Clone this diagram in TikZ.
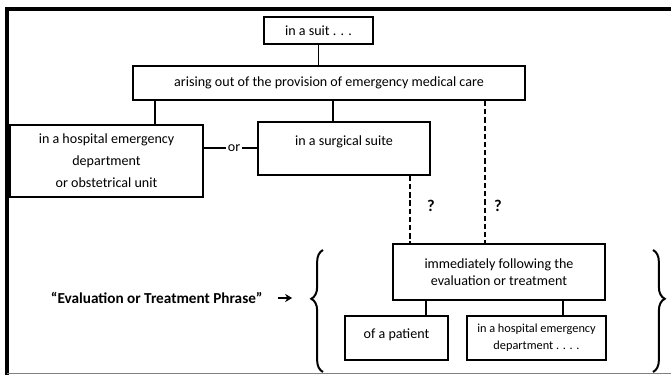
\documentclass[tikz,border=0pt]{standalone}
\usepackage{fontspec}
\setmainfont{Carlito}
\usepackage{tikz}
\usetikzlibrary{arrows.meta,decorations.pathreplacing,positioning}

\begin{document}
\begin{tikzpicture}[x=0.03cm, y=-0.03cm,
  every node/.style={font=\fontsize{12}{14.5}\selectfont},
  pbox/.style={draw, rectangle, line width=1.7pt, align=center, inner sep=0pt},
  tnode/.style={draw=none, rectangle, inner sep=1pt},
  link/.style={line width=1.7pt},
  maybe/.style={line width=1.7pt, dash pattern=on 4.5pt off 2.5pt},
  curly/.style={line width=1.7pt, decorate, decoration={brace, amplitude=10pt}}]

\useasboundingbox (0,0) rectangle (671,375);

% frame
\draw [line width=2.6pt] (7,375) -- (7,9) -- (671,9);
\draw [gray, line width=0.8pt] (7,373) -- (671,373);

% upper part
\node (suit) [pbox, minimum width=3.27cm, minimum height=0.81cm] at (318.5,30.5) {in a suit . . .};
\node (arise) [pbox, minimum width=11.76cm, minimum height=1.02cm] at (329,83)
  {arising out of the provision of emergency medical care};
\node (hosp) [pbox, minimum width=5.79cm, minimum height=2.16cm] at (106.5,161)
  {in a hospital emergency\\[4.3pt] department\\[4.3pt] or obstetrical unit};
\node (surg) [pbox, minimum width=5.16cm, text height=20pt, text depth=25pt] at (344,148.5)
  {in a surgical suite};
\node (or) [tnode] at (234,148) {or};

% evaluation or treatment phrase
\node (immed) [pbox, minimum width=6.36cm, minimum height=1.68cm] at (499,272)
  {immediately following the\\ evaluation or treatment};
\node (pat) [pbox, minimum width=3.09cm, text height=19pt, text depth=18.5pt] at (396.5,338)
  {of a patient};
\node (hosp2) [pbox, minimum width=4.17cm, minimum height=1.32cm,
  font=\fontsize{10.5}{12.5}\selectfont] at (536.5,338)
  {in a hospital emergency\\[2pt] department . . . .};

\node (q1) [tnode, font=\bfseries\fontsize{14}{16}\selectfont] at (431,206) {?};
\node (q2) [tnode, font=\bfseries\fontsize{14}{16}\selectfont] at (498,206) {?};
\node (phrase) [tnode, anchor=east, font=\bfseries\fontsize{13}{15}\selectfont] at (264,298)
  {``Evaluation or Treatment Phrase''};

\draw [curly, decoration={aspect=0.6}] (323,372) -- (323,250) coordinate [pos=0.6, xshift=-10pt] (tip);
\draw [curly, decoration={aspect=0.4}] (653,250) -- (653,372);

% connectors
\draw [link] (suit.south) -- (suit.south |- arise.north);
\draw [link] (arise.south -| 155,0) -- (hosp.north -| 155,0);
\draw [link] (arise.south -| 333,0) -- (surg.north -| 333,0);
\draw [link] (hosp.east |- or) -- (or.west);
\draw [link] (or.east) -- (surg.west |- or);
\draw [maybe] (surg.south -| 410,0) -- (immed.north -| 410,0);
\draw [maybe] (arise.south -| 485,0) -- (immed.north -| 485,0);
\draw [link] (immed.south -| 426,0) -- (pat.north -| 426,0);
\draw [link] (immed.south -| 563,0) -- (hosp2.north -| 563,0);
\draw [-{Stealth[length=6pt,width=7pt]}, line width=1.8pt] (phrase.east) ++(12pt,0) -- ++(12pt,0);
\end{tikzpicture}
\end{document}
